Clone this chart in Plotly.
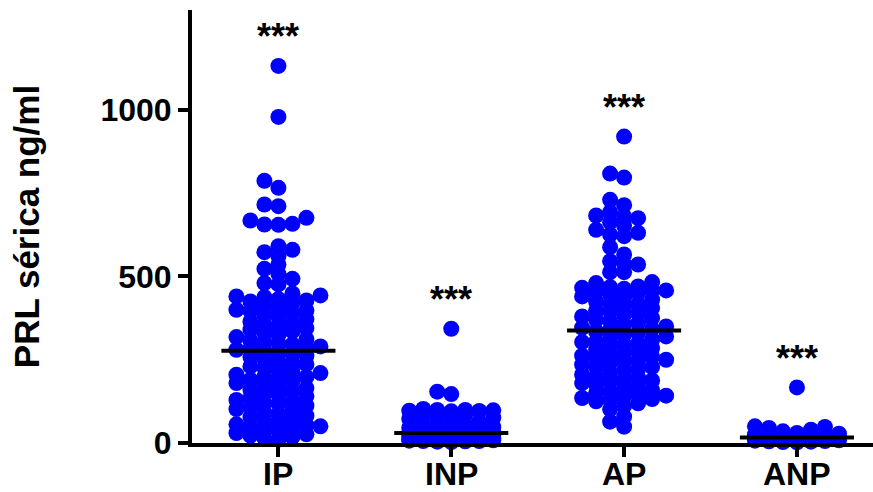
import numpy as np
import plotly.graph_objects as go

categories = ["IP", "INP", "AP", "ANP"]

ip_vals = [1132, 979, 787, 766, 716, 711, 676, 668, 658, 656, 655, 591, 580, 573, 561, 536,
           523, 508, 493, 480, 476,
           449, 443, 440, 438, 432, 428, 425, 420, 412, 405, 400, 398, 396, 390, 385, 378,
           372, 365, 360, 355, 350, 345, 340, 335, 330, 325, 318, 312, 308, 302, 300, 296,
           290, 287, 283, 280, 277,
           272, 268, 262, 258, 252, 246, 240, 236, 230, 226, 220, 215, 210, 205, 200, 198,
           195, 190, 186, 180, 175, 170, 165, 160, 156, 150, 145, 140, 135, 129, 125, 120,
           118, 112, 108, 102, 98, 92, 88, 82, 78, 72, 66, 60, 56, 54, 50, 48, 44, 40, 35,
           30, 26, 22, 18, 14, 10]

inp_vals = [343, 154, 147, 102, 99, 99, 98, 97, 96, 95,
            88, 85, 80, 76, 72, 68, 64, 60, 56, 52, 48, 45, 42, 40, 38, 35, 33, 31,
            29, 28, 27, 26, 25, 24, 22, 22, 20, 18, 18, 16, 15, 14, 12, 12, 11, 10,
            10, 9, 8, 8, 7, 6, 6, 5, 4, 3]

ap_vals = [920, 809, 797, 730, 714, 693, 683, 680, 675, 663, 653, 640, 631, 626, 621, 588,
           566, 546, 538, 536, 513, 513, 483, 480, 470, 468, 466, 463, 458, 458,
           455, 450, 446, 440, 436, 430, 425, 420, 416, 410, 405, 398, 395, 389, 385, 380,
           375, 370, 366, 360, 356, 350, 346, 342, 340,
           335, 330, 326, 320, 315, 310, 305, 303, 300, 296, 290, 285, 280, 275, 270, 265,
           262, 260, 255, 250, 248, 245, 240, 235, 228, 228, 222, 218, 212, 206, 200, 196,
           190, 188, 185, 180, 175, 170, 165, 159, 156, 150, 145, 142, 140, 135, 132, 129,
           125, 119, 111, 101, 79, 64, 49]

anp_vals = [167, 50, 48, 45, 40, 35, 30, 28, 25, 22, 20, 19, 18, 17, 16, 15, 14, 12, 11,
            10, 9, 8, 7, 6, 5, 4, 3, 2]

groups = [ip_vals, inp_vals, ap_vals, anp_vals]

Y_MAX = 1300
PLOT_H = 433.0
PLOT_W = 681.0
X_RANGE = [-0.5, 3.44]
PX_PER_Y = PLOT_H / Y_MAX
PX_PER_X = PLOT_W / (X_RANGE[1] - X_RANGE[0])
STEP_PX = 14.0
DMIN = 8.0
SLOTS = [0, -1, 1, -2, 2, -3, 3]


def swarm_offsets(vals):
    order = np.argsort(vals)
    placed = []
    offs = np.zeros(len(vals))
    for idx in order:
        y = vals[idx] * PX_PER_Y
        best, best_d = None, -1
        for c in SLOTS:
            if placed:
                d = min(np.hypot((c - pc) * STEP_PX, y - py) for pc, py in placed)
            else:
                d = 1e9
            if d >= DMIN:
                best = c
                break
            if d > best_d:
                best_d, best = d, c
        placed.append((best, y))
        offs[idx] = best * STEP_PX / PX_PER_X
    return offs


fig = go.Figure()
for i, vals in enumerate(groups):
    v = np.array(vals, dtype=float)
    offs = swarm_offsets(v)
    fig.add_trace(go.Scatter(x=i + offs, y=v, mode="markers",
                             marker=dict(color="#0000FF", size=16, line=dict(width=0)),
                             cliponaxis=False, showlegend=False, hoverinfo="y"))
for i, vals in enumerate(groups):
    med = float(np.median(vals))
    fig.add_trace(go.Scatter(x=[i - 0.33, i + 0.33], y=[med, med], mode="lines",
                             line=dict(color="black", width=4),
                             cliponaxis=False, showlegend=False, hoverinfo="skip"))
    fig.add_annotation(x=i, y=max(vals), text="<b>***</b>", showarrow=False, yshift=29,
                       yanchor="middle", font=dict(family="Liberation Sans", size=36,
                                                   color="black"))
    # category label placed just below the x axis tick
    fig.add_annotation(x=i, y=0, yref="paper", text="<b>%s</b>" % categories[i],
                       showarrow=False, yanchor="top", yshift=-11,
                       font=dict(family="Liberation Sans", size=32, color="black"))

fig.update_layout(
    width=873, height=492,
    margin=dict(l=192, r=0, t=10, b=49),
    plot_bgcolor="white", paper_bgcolor="white",
    font=dict(family="Liberation Sans", color="black"),
)
fig.update_xaxes(range=X_RANGE, tickmode="array", tickvals=list(range(len(categories))),
                 showticklabels=False, showline=True,
                 linecolor="black", linewidth=4, ticks="outside", ticklen=10, tickwidth=4,
                 tickcolor="black", showgrid=False, zeroline=False, automargin=False)
fig.update_yaxes(range=[0, Y_MAX], tickvals=[0, 500, 1000],
                 ticktext=["<b>0</b>", "<b>500</b>", "<b>1000</b>"], showline=True,
                 linecolor="black", linewidth=4, ticks="outside", ticklen=10, tickwidth=4,
                 tickcolor="black", showgrid=False, zeroline=False, automargin=False,
                 tickfont=dict(size=32, family="Liberation Sans"),
                 title=dict(text="<b>PRL sérica ng/ml</b>", standoff=51,
                            font=dict(size=35, family="Liberation Sans")))

fig.write_html("out.html")
